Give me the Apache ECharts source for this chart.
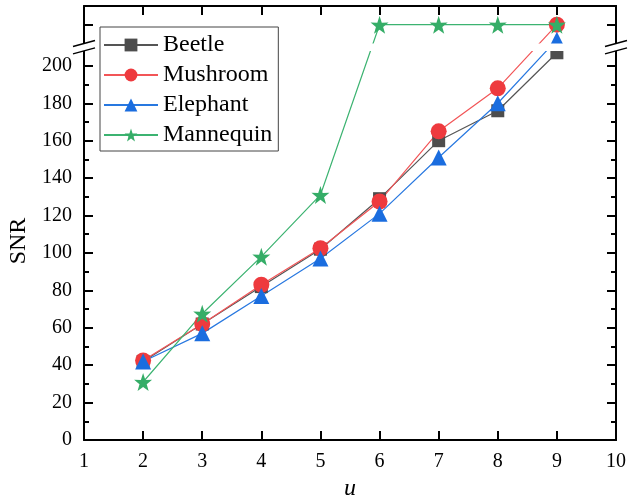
<!DOCTYPE html>
<html>
<head>
<meta charset="utf-8">
<script src="https://cdn.jsdelivr.net/npm/echarts@6.0.0/dist/echarts.min.js"></script>
<style>
  html, body { margin: 0; padding: 0; background: #fff; }
  #chart { width: 630px; height: 502px; }
</style>
</head>
<body>
<div id="chart"></div>
<script>
// u values on the x axis
const uValues = [2, 3, 4, 5, 6, 7, 8, 9]

// SNR per object (points above the break are read at the level they are drawn)
const beetle = [42, 62, 82, 102, 129, 160, 176, 207]
const mushroom = [42.5, 62, 83, 102.5, 127.5, 165, 188, 222]
const elephant = [42, 57, 77, 97, 121, 151, 180, 214]
const mannequin = [31, 67.5, 98, 131, 222, 222, 222, 222]

const xTicks = [1, 2, 3, 4, 5, 6, 7, 8, 9, 10]
const yLabels = [0, 20, 40, 60, 80, 100, 120, 140, 160, 180, 200]
const yMajorTicks = [...yLabels, 222]
const yMinorTicks = [10, 30, 50, 70, 90, 110, 130, 150, 170, 190]

const FONT = "'Liberation Serif', 'Times New Roman', serif"
const STAR = 'path://M50,0 L61.8,35.1 L97.6,34.5 L69.1,56.7 L79.4,90.5 L50,70 L20.6,90.5 L30.9,56.7 L2.4,34.5 L38.2,35.1 Z'

const toPairs = (ys) => uValues.map((u, i) => [u, ys[i]])

const makeSerie = (name, data, symbol, size, lineColor, markColor) => {
  return {
    name: name,
    type: 'line',
    data: toPairs(data),
    symbol: symbol,
    symbolSize: size,
    showSymbol: true,
    lineStyle: { color: lineColor, width: 1.2 },
    itemStyle: { color: markColor, opacity: 1 },
    emphasis: { disabled: true },
    animation: false
  }
}

const yAxisBase = (position, ticks, len, labels) => {
  return {
    type: 'value',
    position: position,
    min: 0,
    max: 232,
    splitLine: { show: false },
    axisLine: { show: labels !== null || position === 'right', onZero: false, lineStyle: { color: '#000', width: 2 } },
    axisTick: { show: true, inside: true, length: len, customValues: ticks, lineStyle: { color: '#000', width: 2 } },
    axisLabel: labels ? {
      show: true, customValues: labels, margin: 12,
      fontFamily: FONT, fontSize: 20, color: '#000'
    } : { show: false }
  }
}

const getOption = () => {
  return {
    backgroundColor: '#fff',
    grid: { left: 84, right: 14, top: 6, bottom: 62, containLabel: false, outerBoundsMode: 'none' },
    legend: {
      orient: 'vertical',
      left: 100,
      top: 27,
      z: 20,
      padding: [6, 6, 4, 3],
      backgroundColor: '#fff',
      borderColor: '#444',
      borderWidth: 1,
      borderRadius: 0,
      itemWidth: 54,
      itemHeight: 16,
      itemGap: 6,
      selectedMode: false,
      textStyle: { fontFamily: FONT, fontSize: 24, color: '#000', lineHeight: 24 },
      data: ['Beetle', 'Mushroom', 'Elephant', 'Mannequin']
    },
    xAxis: [
      {
        type: 'value',
        min: 1,
        max: 10,
        interval: 1,
        name: 'u',
        nameLocation: 'middle',
        nameGap: 36,
        nameTextStyle: { fontFamily: FONT, fontSize: 24, fontStyle: 'italic', color: '#000' },
        splitLine: { show: false },
        axisLine: { onZero: false, lineStyle: { color: '#000', width: 2 } },
        axisTick: { inside: true, length: 9, lineStyle: { color: '#000', width: 2 } },
        axisLabel: { margin: 12, fontFamily: FONT, fontSize: 20, color: '#000' }
      },
      {
        type: 'value',
        position: 'top',
        min: 1,
        max: 10,
        interval: 1,
        splitLine: { show: false },
        axisLine: { onZero: false, lineStyle: { color: '#000', width: 2 } },
        axisTick: { inside: true, length: 9, lineStyle: { color: '#000', width: 2 } },
        axisLabel: { show: false }
      }
    ],
    yAxis: [
      yAxisBase('left', yMajorTicks, 9, yLabels),
      yAxisBase('left', yMinorTicks, 5, null),
      yAxisBase('right', yMajorTicks, 9, null),
      yAxisBase('right', yMinorTicks, 5, null)
    ],
    series: [
      makeSerie('Beetle', beetle, 'rect', 13, '#555555', '#4d4d4d'),
      makeSerie('Mushroom', mushroom, 'circle', 16, '#f25557', '#ee3a3e'),
      makeSerie('Elephant', elephant, 'triangle', 16, '#2878e0', '#1a6ddf'),
      makeSerie('Mannequin', mannequin, STAR, 18, '#3cb371', '#35ad67')
    ],
    animation: false
  }
}

const chart = echarts.init(document.getElementById('chart'))
chart.setOption(getOption())

// axis break: white band plus the two slashes on each side
const bandTop = chart.convertToPixel({ yAxisIndex: 0 }, 212)
const bandBottom = chart.convertToPixel({ yAxisIndex: 0 }, 208)
const xLeft = chart.convertToPixel({ xAxisIndex: 0 }, 1)
const xRight = chart.convertToPixel({ xAxisIndex: 0 }, 10)

const slashes = (x) => {
  return [bandTop, bandBottom].map(y => ({
    type: 'line',
    z: 12,
    shape: { x1: x - 11, y1: y + 3, x2: x + 11, y2: y - 3 },
    style: { stroke: '#000', lineWidth: 1.5 }
  }))
}

chart.setOption({
  graphic: [
    {
      type: 'rect',
      z: 10,
      shape: { x: xLeft - 6, y: bandTop, width: xRight - xLeft + 12, height: bandBottom - bandTop },
      style: { fill: '#fff' }
    },
    ...slashes(xLeft),
    ...slashes(xRight),
    {
      type: 'text',
      z: 12,
      x: 19,
      y: 241,
      rotation: Math.PI / 2,
      style: { text: 'SNR', font: "24px 'Liberation Serif'", fill: '#000', align: 'center', verticalAlign: 'middle' }
    }
  ]
})
</script>
</body>
</html>
